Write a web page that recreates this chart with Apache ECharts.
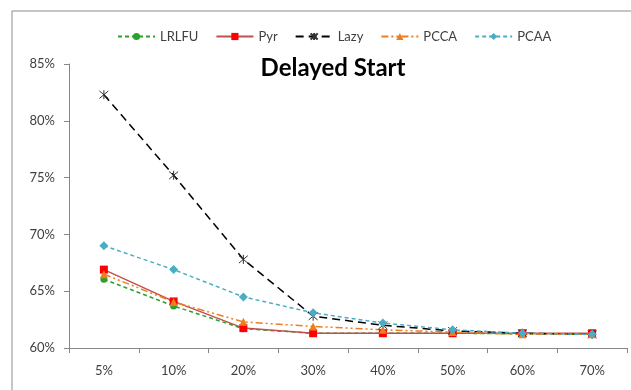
<!DOCTYPE html>
<html><head><meta charset="utf-8">
<script src="https://cdn.jsdelivr.net/npm/echarts@6/dist/echarts.min.js"></script>
<style>html,body{margin:0;padding:0;background:#fff}#c{width:631px;height:390px}</style>
</head><body><div id="c"></div>
<script>
const categories = ['5%','10%','20%','30%','40%','50%','60%','70%'];
const LRLFU = [66.05, 63.7, 61.7, 61.3, 61.3, 61.3, 61.25, 61.2];
const Pyr   = [66.9, 64.1, 61.75, 61.3, 61.3, 61.3, 61.3, 61.3];
const Lazy  = [82.3, 75.2, 67.8, 62.8, 62.0, 61.5, 61.3, 61.2];
const PCCA  = [66.5, 64.05, 62.3, 61.9, 61.6, 61.4, 61.2, 61.2];
const PCAA  = [69.0, 66.9, 64.5, 63.1, 62.2, 61.6, 61.3, 61.2];

const star = 'path://M-1,-1L1,1M1,-1L-1,1M0,-1.2L0,1.2';
const chart = echarts.init(document.getElementById('c'));
const font = 'Lato, "Liberation Sans", sans-serif';
function s(name, data, color, lineType, symbol, size, mColor, width){
  return {name, type:'line', data, symbol, symbolSize:size, showSymbol:true,
    lineStyle:{color, type:lineType, width: width||1.5},
    itemStyle:{color:mColor||color, borderColor:mColor||color, borderWidth: symbol===star?1:0},
    z: 2};
}
chart.setOption({
  animation:false,
  graphic:[{type:'rect', shape:{x:12,y:11,width:640,height:400}, style:{fill:'none', stroke:'#8c8c8c', lineWidth:1}}],
  title:{text:'Delayed Start', left:328, textAlign:'center', top:51,
    textStyle:{fontFamily:'Lato, "Liberation Sans", sans-serif', fontWeight:'bold', fontSize:24, color:'#000'}},
  legend:{top:25, left:112, itemWidth:37, itemHeight:9, itemGap:17,
    textStyle:{fontFamily:font, fontSize:13, color:'#404040'},
    data:['LRLFU','Pyr','Lazy','PCCA','PCAA']},
  grid:{left:69, right:4, top:64, bottom:42},
  xAxis:{type:'category', data:categories, boundaryGap:true,
    axisLine:{lineStyle:{color:'#868686'}}, axisTick:{show:true, length:5, lineStyle:{color:'#868686'}},
    axisLabel:{fontFamily:font, fontSize:13, color:'#404040', margin:16}},
  yAxis:{type:'value', min:60, max:85, interval:5,
    axisLine:{show:true, lineStyle:{color:'#868686'}}, axisTick:{show:true, inside:false, length:5, lineStyle:{color:'#868686'}},
    splitLine:{show:false},
    axisLabel:{formatter:v=>v+'%', fontFamily:font, fontSize:13, color:'#404040', margin:14}},
  series:[
    s('LRLFU', LRLFU, '#2ca02c', [4,3], 'circle', 7, '#2ca02c'),
    s('Pyr', Pyr, '#c0504d', 'solid', 'rect', 8, '#ff0000'),
    s('Lazy', Lazy, '#000000', [8,5], star, 9, '#333333'),
    s('PCCA', PCCA, '#f07c1e', [7,3,2,3,2,3], 'triangle', 8, '#f07c1e'),
    s('PCAA', PCAA, '#4bacc6', [4,3], 'diamond', 9, '#4bacc6')
  ]
});
</script></body></html>
